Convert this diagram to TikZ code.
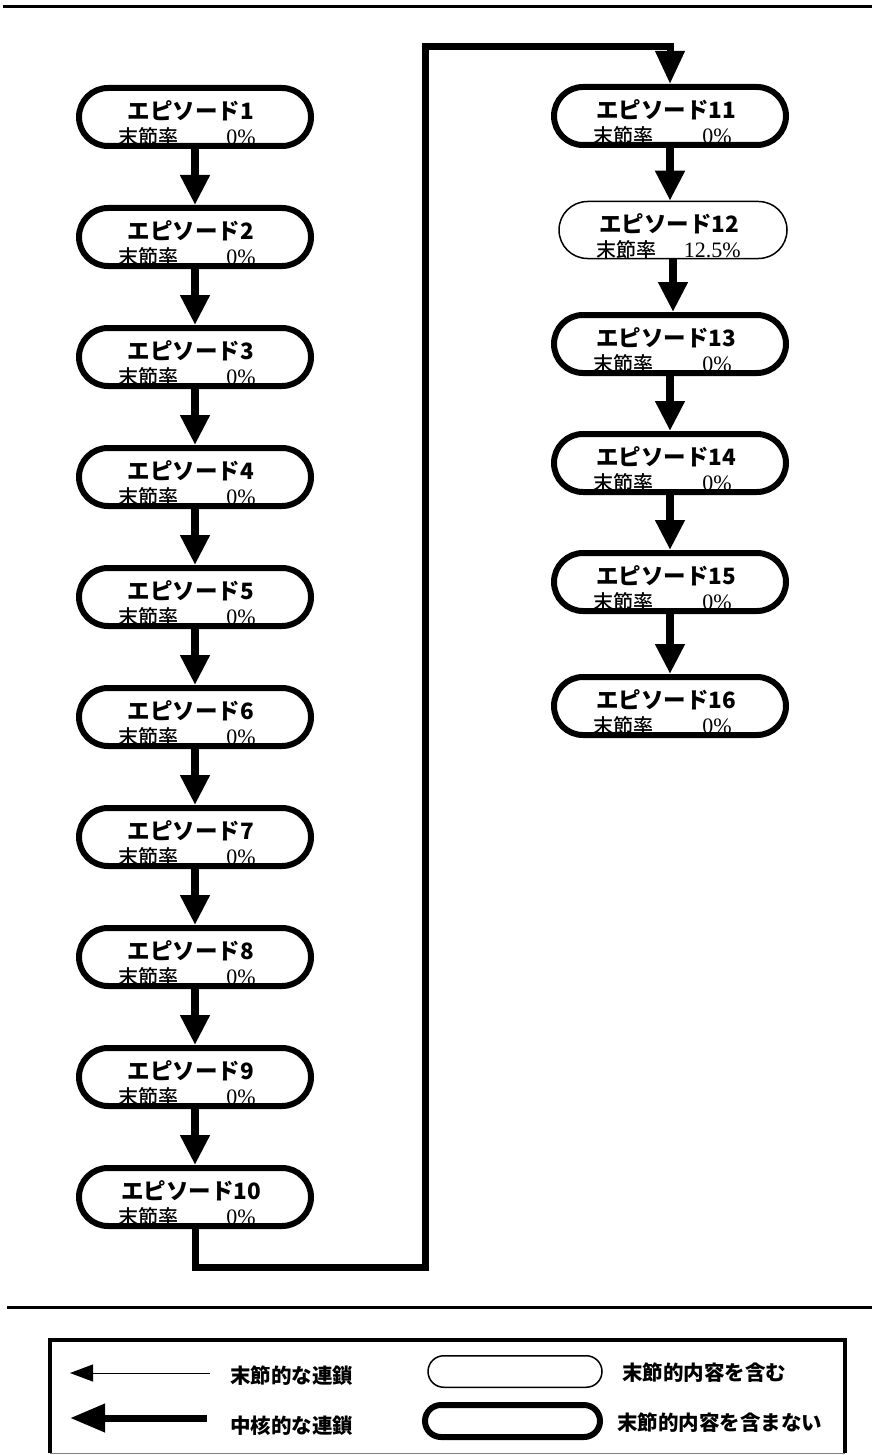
\documentclass[tikz,border=0pt]{standalone}
\usepackage{fontspec}
\newfontfamily\jp{Noto Sans CJK JP}
\newfontfamily\jpmed{Noto Sans CJK JP Medium}
\newfontfamily\numfont{Liberation Serif}
\usetikzlibrary{arrows.meta,shapes.misc}

\tikzset{
  epthick/.style={draw, line width=6pt, rounded rectangle, minimum width=232pt,
    minimum height=58pt, inner sep=0pt},
  epthin/.style={draw, line width=1.5pt, rounded rectangle, minimum width=228pt,
    minimum height=57pt, inner sep=0pt},
  eptitle/.style={font={\jp\bfseries\fontsize{22.5pt}{24pt}\selectfont}, inner sep=0pt, anchor=base},
  eplabel/.style={font={\jpmed\fontsize{20pt}{22pt}\selectfont}, inner sep=0pt, anchor=base west},
  epnum/.style={font={\numfont\fontsize{22pt}{24pt}\selectfont}, inner sep=0pt, anchor=base east},
  flowarrow/.style={line width=8pt, -{Triangle[width=28pt,length=30pt]}},
  chainline/.style={line width=7pt, line join=miter, -{Triangle[width=28pt,length=33pt]}},
  legendtext/.style={font={\jp\bfseries\fontsize{20.5pt}{22pt}\selectfont}, inner sep=0pt, anchor=base west},
  rule/.style={line width=3pt},
}

% \episode{name}{x}{y}{style}{number}{rate}{right end of rate}
\newcommand\episode[7]{%
  \node[#4] (#1) at (#2,#3) {};
  \node[eptitle] (#1t) at ({#2-4},{#3+2.5}) {エピソード#5};
  \node[eplabel] (#1l) at ({#2-77},{#3+27.5}) {末節率};
  \node[epnum] (#1r) at ({#2+#7},{#3+27.5}) {#6};
}

\begin{document}
\begin{tikzpicture}[x=1pt, y=-1pt]
  \fill[white] (0,0) rectangle (872,1455);
  \useasboundingbox (0,0) rectangle (872,1455);

  % horizontal rules
  \draw[rule] (3,7) -- (872,7);
  \draw[rule] (7,1307) -- (872,1307);

  % left column
  \episode{e1}{195}{117}{epthick}{1}{0\%}{61}
  \episode{e2}{195}{237}{epthick}{2}{0\%}{61}
  \episode{e3}{195}{357}{epthick}{3}{0\%}{61}
  \episode{e4}{195}{477}{epthick}{4}{0\%}{61}
  \episode{e5}{195}{597}{epthick}{5}{0\%}{61}
  \episode{e6}{195}{717}{epthick}{6}{0\%}{61}
  \episode{e7}{195}{837}{epthick}{7}{0\%}{61}
  \episode{e8}{195}{957}{epthick}{8}{0\%}{61}
  \episode{e9}{195}{1077}{epthick}{9}{0\%}{61}
  \episode{e10}{195}{1197}{epthick}{10}{0\%}{61}

  % right column
  \episode{e11}{670}{116}{epthick}{11}{0\%}{62}
  \episode{e12}{673}{230}{epthin}{12}{12.5\%}{68}
  \episode{e13}{670}{344}{epthick}{13}{0\%}{62}
  \episode{e14}{670}{463}{epthick}{14}{0\%}{62}
  \episode{e15}{670}{582}{epthick}{15}{0\%}{62}
  \episode{e16}{670}{706}{epthick}{16}{0\%}{62}

  % arrows inside the columns
  \foreach \a/\b in {e1/e2,e2/e3,e3/e4,e4/e5,e5/e6,e6/e7,e7/e8,e8/e9,e9/e10,
                     e11/e12,e12/e13,e13/e14,e14/e15,e15/e16}
    \draw[flowarrow] (\a.south) -- (\a.south |- \b.north);

  % link from the bottom of the left column to the top of the right column
  \coordinate (turnA) at (425,1267);
  \coordinate (turnB) at (670,47);
  \draw[chainline] (e10.south) |- (turnA) |- (turnB) -- (e11.north);

  % legend frame
  \draw[line width=3.5pt, line join=miter] (50,1453) -- (50,1340) -- (845,1340) -- (845,1453);
  \draw[gray, line width=1pt] (50,1453) -- (845,1453);

  % legend: connectors
  \coordinate (thinS) at (210,1373);
  \coordinate (thinE) at (70,1373);
  \coordinate (thickS) at (207,1418);
  \coordinate (thickE) at (70,1418);
  \draw[line width=1pt, -{Triangle[width=17pt,length=23pt]}] (thinS) -- (thinE);
  \draw[line width=7pt, -{Triangle[width=27pt,length=35pt]}] (thickS) -- (thickE);
  \node[legendtext] (lt1) at (230,1383) {末節的な連鎖};
  \node[legendtext] (lt2) at (230,1433) {中核的な連鎖};

  % legend: node outlines
  \node[draw, line width=1.5pt, rounded rectangle, minimum width=174pt, minimum height=31.5pt,
        inner sep=0pt] (lshape1) at (515,1371.5) {};
  \node[draw, line width=6pt, rounded rectangle, minimum width=175pt, minimum height=32pt,
        inner sep=0pt] (lshape2) at (512.5,1421) {};
  \node[legendtext] (lt3) at (622,1380) {末節的内容を含む};
  \node[legendtext] (lt4) at (617,1430) {末節的内容を含まない};
\end{tikzpicture}
\end{document}
